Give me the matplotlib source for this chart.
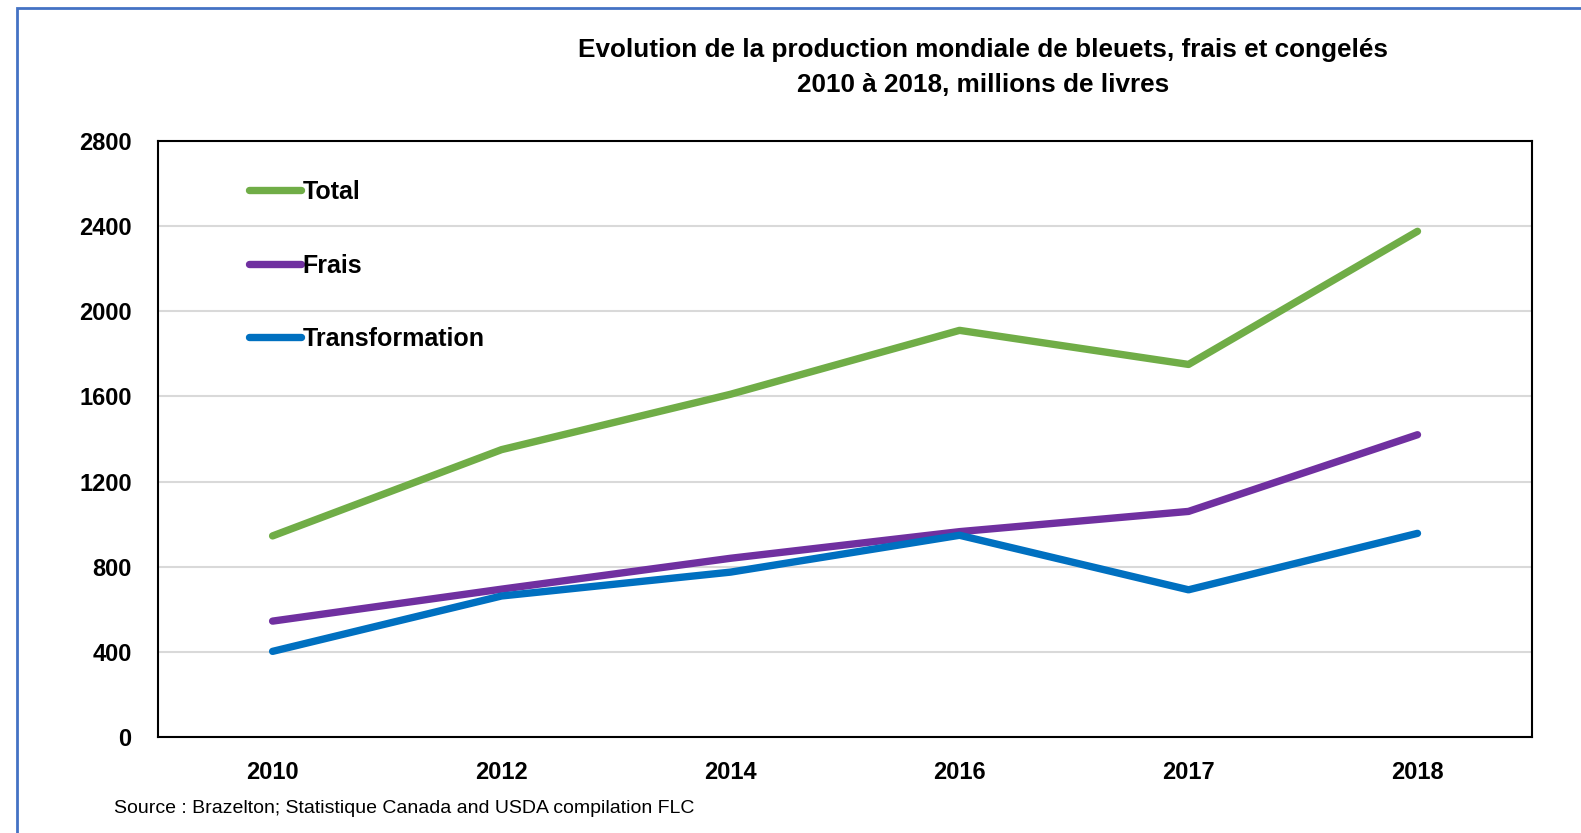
import matplotlib.pyplot as plt
from matplotlib.patches import Rectangle

plt.rcParams['font.family'] = ['Liberation Sans Narrow', 'Liberation Sans', 'DejaVu Sans']

# Données (millions de livres)
annees = ['2010', '2012', '2014', '2016', '2017', '2018']
total = [945, 1350, 1610, 1910, 1750, 2375]
frais = [545, 695, 840, 965, 1060, 1420]
transformation = [403, 663, 775, 948, 692, 957]

fig = plt.figure(figsize=(15.81, 8.33), dpi=100)
ax = fig.add_axes([0.100, 0.115, 0.869, 0.716])

x = range(len(annees))
ax.plot(x, total, color='#70ad47', lw=5.3, solid_capstyle='round', label='Total')
ax.plot(x, frais, color='#7030a0', lw=5.3, solid_capstyle='round', label='Frais')
ax.plot(x, transformation, color='#0070c0', lw=5.3, solid_capstyle='round',
        label='Transformation')

ax.set_xlim(-0.5, len(annees) - 0.5)
ax.set_ylim(0, 2800)
ax.set_yticks(range(0, 2801, 400))
ax.set_xticks(list(x))
ax.set_xticklabels(annees)
ax.grid(axis='y', color='#d9d9d9', lw=1.5)
ax.set_axisbelow(True)
for s in ax.spines.values():
    s.set_linewidth(1.5)
    s.set_color('black')
ax.tick_params(length=0, labelsize=17)
ax.tick_params(axis='y', pad=19)
ax.tick_params(axis='x', pad=17)
for lab in ax.get_xticklabels() + ax.get_yticklabels():
    lab.set_fontweight('bold')

leg = ax.legend(loc='upper left', bbox_to_anchor=(0.057, 0.955), frameon=False,
                fontsize=18, handlelength=2.1, handletextpad=0.05,
                labelspacing=1.98, borderpad=0)
for t in leg.get_texts():
    t.set_fontweight('bold')

fig.text(0.622, 0.919, 'Evolution de la production mondiale de bleuets, frais et congelés\n'
         '2010 à 2018, millions de livres', ha='center', va='center',
         fontsize=18.8, fontweight='bold', linespacing=1.55)

fig.text(0.072, 0.029, 'Source : Brazelton; Statistique Canada and USDA compilation FLC',
         ha='left', va='center', fontsize=14)

# cadre bleu
fig.patches.append(Rectangle((17 / 1581, -0.1), 1.2, 1.1 - 8 / 833, transform=fig.transFigure,
                             fill=False, edgecolor='#4472c4', lw=2))

fig.savefig('out.png', dpi=100)
